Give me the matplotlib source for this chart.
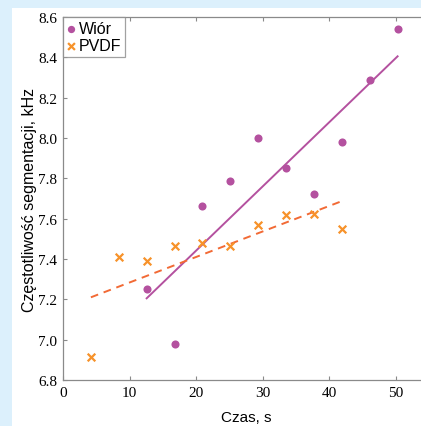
import matplotlib
matplotlib.use("Agg")
import matplotlib.pyplot as plt
from matplotlib.patches import Rectangle

# czas pomiaru, s
czas = [4.19, 8.38, 12.57, 16.76, 20.95, 25.14, 29.33, 33.52, 37.71, 41.90, 46.09, 50.28]

# Wiór - punkty pomiarowe i linia trendu
wior_x = czas[2:]
wior_y = [7.25, 6.98, 7.665, 7.785, 8.00, 7.85, 7.72, 7.98, 8.29, 8.54]
wior_fit_x = [12.57, 50.28]
wior_fit_y = [7.205, 8.405]

# PVDF - punkty pomiarowe i linia trendu
pvdf_x = czas[:10]
pvdf_y = [6.915, 7.41, 7.39, 7.465, 7.48, 7.465, 7.568, 7.62, 7.622, 7.55]
pvdf_fit_x = [4.19, 41.90]
pvdf_fit_y = [7.21, 7.687]

x_ticks = [0, 10, 20, 30, 40, 50]
y_ticks = [6.8, 7.0, 7.2, 7.4, 7.6, 7.8, 8.0, 8.2, 8.4, 8.6]

PURPLE = "#b4519f"
ORANGE = "#f7922a"
DASH = "#f26a35"
SPINE = "#8a8a8a"

plt.rcParams["font.family"] = "Liberation Serif"
SANS = "Liberation Sans"

fig = plt.figure(figsize=(4.21, 4.27), dpi=100)
fig.patch.set_facecolor("#dcf0fc")
fig.add_artist(Rectangle((12 / 421, 0), 1, 1 - 9 / 427, transform=fig.transFigure,
                         facecolor="white", edgecolor="none", zorder=0))

ax = fig.add_axes([63 / 421, 46 / 427, 366 / 421, 363 / 427])
ax.set_facecolor("white")

ax.scatter(wior_x, wior_y, s=34, color=PURPLE, marker="o", linewidths=0,
           label="Wiór", zorder=3)
ax.scatter(pvdf_x, pvdf_y, s=30, color=ORANGE, marker="x", linewidths=1.6,
           label="PVDF", zorder=3)
ax.plot(wior_fit_x, wior_fit_y, color=PURPLE, lw=1.4, zorder=2)
ax.plot(pvdf_fit_x, pvdf_fit_y, color=DASH, lw=1.4, ls=(0, (4, 3)), zorder=2)

ax.set_xlim(0, 55)
ax.set_ylim(6.8, 8.6)
ax.set_xticks(x_ticks)
ax.set_yticks(y_ticks)
ax.set_yticklabels([f"{v:.1f}" for v in y_ticks])

for s in ax.spines.values():
    s.set_color(SPINE)
    s.set_linewidth(0.9)
ax.tick_params(direction="in", length=3, width=0.8, color=SPINE,
               top=True, right=True, labelsize=11, pad=4)

ax.set_xlabel("Czas, s", family=SANS, fontsize=11, labelpad=8)
ax.set_ylabel("Częstotliwość segmentacji, kHz", family=SANS,
              fontsize=11.5, labelpad=1)

leg = ax.legend(loc="upper left", borderaxespad=0, fancybox=False,
                prop={"family": SANS, "size": 11.5},
                handlelength=0.5, handletextpad=0.25, borderpad=0.25,
                labelspacing=0.15, scatterpoints=1, markerscale=0.9)
leg.get_frame().set_edgecolor(SPINE)
leg.get_frame().set_linewidth(0.9)

fig.savefig("out.png", dpi=100, facecolor=fig.get_facecolor())
